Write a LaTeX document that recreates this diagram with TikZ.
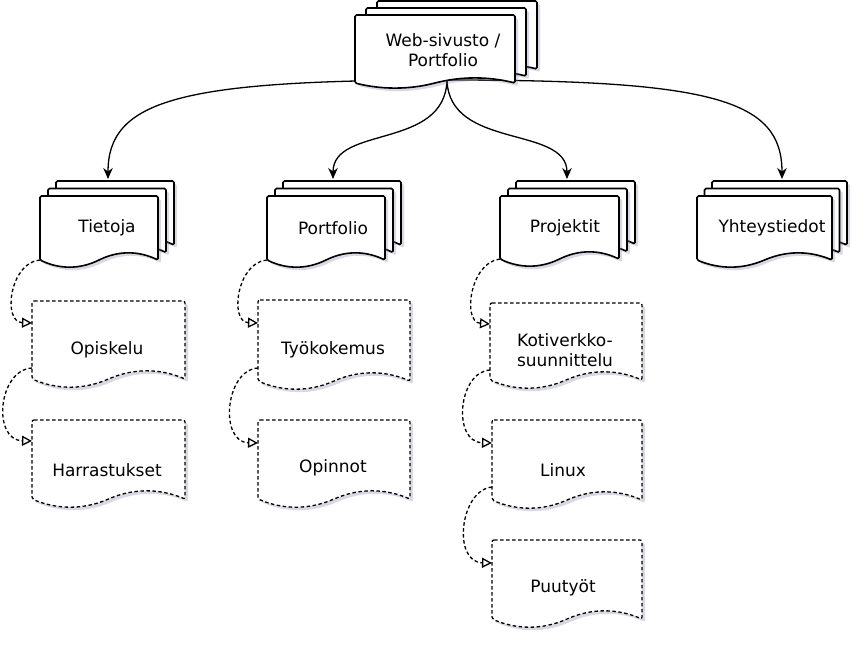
\documentclass[tikz,border=0pt]{standalone}
\usepackage{fontspec}
\setmainfont{DejaVu Sans}
\usetikzlibrary{arrows.meta,shadows}

% one sheet: x1, y1 (top), x2, y2 (lowest point of wave), a (wave amplitude), style
\newcommand\docshape[6]{%
  \draw[#6] ({#1},{#2}) -- ({#3},{#2}) -- ({#3},{(#4)-(#5)})
    .. controls ({(#1)+0.8333*((#3)-(#1))},{(#4)-(#5)-1.3333*(#5)})
           and ({(#1)+0.6667*((#3)-(#1))},{(#4)-(#5)-1.3333*(#5)})
    .. ({0.5*((#1)+(#3))},{(#4)-(#5)})
    .. controls ({(#1)+0.3333*((#3)-(#1))},{(#4)-(#5)+1.3333*(#5)})
           and ({(#1)+0.1667*((#3)-(#1))},{(#4)-(#5)+1.3333*(#5)})
    .. ({#1},{(#4)-(#5)}) -- cycle;}
% three stacked sheets: x1,y1,x2,y2,a,dx,dy
\newcommand\mdoc[7]{%
  \docshape{(#1)+2*(#6)}{(#2)-2*(#7)}{(#3)+2*(#6)}{(#4)-2*(#7)}{#5}{sheet}%
  \docshape{(#1)+(#6)}{(#2)-(#7)}{(#3)+(#6)}{(#4)-(#7)}{#5}{sheet}%
  \docshape{#1}{#2}{#3}{#4}{#5}{sheet}}

\begin{document}
\begin{tikzpicture}[x=1pt,y=-1pt,
  shad/.style={drop shadow={shadow xshift=3pt,shadow yshift=-3pt,opacity=0.3,fill=black!70!blue!50,draw=none}},
  sheet/.style={draw=black,fill=white,line width=1.6pt,rounded corners=1.5pt,shad},
  dsheet/.style={draw=black,fill=white,line width=1.3pt,dash pattern=on 3.5pt off 2.5pt,rounded corners=2pt,shad},
  lbl/.style={font=\fontsize{17}{20}\selectfont,align=center,inner sep=0pt},
  tree/.style={line width=1.3pt,-{Stealth[length=11pt,width=9.5pt]}},
  sub/.style={line width=1.3pt,dash pattern=on 3.5pt off 2.5pt,-{Triangle[open,length=10pt,width=10pt,line width=1.3pt]}}]
\useasboundingbox (0,0) rectangle (867,648);

% connector end points
\coordinate (webout) at (447,80);
\coordinate (tietojain) at (108,179);
\coordinate (portfolioin) at (333,179);
\coordinate (projektitin) at (567,179);
\coordinate (yhteysin) at (782,179);

% tree connectors (drawn first, the top sheet covers their start)
\draw[tree] (webout) .. controls (180,80) and (108,100) .. (tietojain);
\draw[tree] (webout) .. controls (445,150) and (333,125) .. (portfolioin);
\draw[tree] (webout) .. controls (449,150) and (567,125) .. (projektitin);
\draw[tree] (webout) .. controls (714,80) and (782,100) .. (yhteysin);

% multi-document shapes
\mdoc{355}{15}{515}{88}{5}{11}{7}
\mdoc{40}{196}{158}{267}{7}{8}{7.5}
\mdoc{267}{196}{385}{267}{7}{8}{7.5}
\mdoc{500}{196}{619}{266}{7}{8}{7.5}
\mdoc{697}{196}{832}{267}{7}{7.5}{7.5}

% dashed documents
\docshape{32}{301}{185}{387}{8}{dsheet}
\docshape{32}{420}{185}{507}{8}{dsheet}
\docshape{258}{300}{410}{389}{8}{dsheet}
\docshape{258}{420}{410}{507}{8}{dsheet}
\docshape{490}{303}{642}{388}{8}{dsheet}
\docshape{492}{420}{642}{508}{8}{dsheet}
\docshape{492}{540}{642}{627}{8}{dsheet}

% labels
\node[lbl] (web) at (443,50) {Web-sivusto /\\Portfolio};
\node[lbl] (tietoja) at (107,228) {Tietoja};
\node[lbl] (portfolio) at (333,228) {Portfolio};
\node[lbl] (projektit) at (565,228) {Projektit};
\node[lbl] (yhteys) at (772,228) {Yhteystiedot};
\node[lbl] (opiskelu) at (107,350) {Opiskelu};
\node[lbl] (harrastukset) at (107,470) {Harrastukset};
\node[lbl] (tyokokemus) at (333,350) {Työkokemus};
\node[lbl] (opinnot) at (333,468) {Opinnot};
\node[lbl] (kotiverkko) at (565,350) {Kotiverkko-\\suunnittelu};
\node[lbl] (linux) at (563,470) {Linux};
\node[lbl] (puutyot) at (563,588) {Puutyöt};

% sub connector points
\coordinate (tietojaout) at (40,260);
\coordinate (opiskeluin) at (32,323);
\coordinate (opiskeluout) at (32,368);
\coordinate (harrastuksetin) at (32,441);
\coordinate (portfolioout) at (267,260);
\coordinate (tyokokemusin) at (258,323);
\coordinate (tyokokemusout) at (258,368);
\coordinate (opinnotin) at (258,443);
\coordinate (projektitout) at (500,259);
\coordinate (kotiverkkoin) at (490,324);
\coordinate (kotiverkkoout) at (490,370);
\coordinate (linuxin) at (492,443);
\coordinate (linuxout) at (492,487);
\coordinate (puutyotin) at (492,563);

\draw[sub] (tietojaout) .. controls (10,262) and (2,322) .. (opiskeluin);
\draw[sub] (opiskeluout) .. controls (-2,370) and (-8,440) .. (harrastuksetin);
\draw[sub] (portfolioout) .. controls (237,262) and (229,322) .. (tyokokemusin);
\draw[sub] (tyokokemusout) .. controls (225,370) and (219,442) .. (opinnotin);
\draw[sub] (projektitout) .. controls (470,262) and (462,322) .. (kotiverkkoin);
\draw[sub] (kotiverkkoout) .. controls (458,372) and (452,442) .. (linuxin);
\draw[sub] (linuxout) .. controls (460,490) and (452,562) .. (puutyotin);
\end{tikzpicture}
\end{document}
